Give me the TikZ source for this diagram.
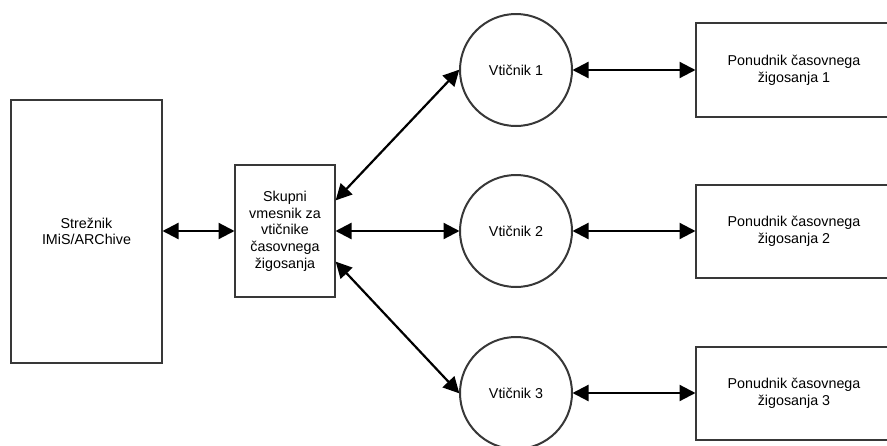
\documentclass[tikz,border=0pt]{standalone}
\usepackage{fontspec}
\setmainfont{Liberation Sans}
\usetikzlibrary{arrows.meta,calc}
\tikzset{
  boxnode/.style={draw=black!78, line width=2pt, fill=white, rectangle, inner sep=0pt, align=center,
    font=\fontsize{14.3}{16.7}\selectfont},
  plugnode/.style={draw=black!78, line width=2pt, fill=white, circle, inner sep=0pt, minimum size=112pt,
    font=\fontsize{14.3}{16.7}\selectfont},
  link/.style={draw=black, line width=2.2pt, {Triangle[length=16pt,width=16pt]}-{Triangle[length=16pt,width=16pt]}, shorten <=-0.5pt, shorten >=-0.5pt}
}
\begin{document}
\begin{tikzpicture}[x=1pt,y=-1pt]
\useasboundingbox (0,0) rectangle (887,445);
\node[boxnode, minimum width=151pt, minimum height=263pt] (L) at (86.5,231.5) {Strežnik\\IMiS/ARChive};
\node[boxnode, minimum width=100pt, minimum height=132pt] (M) at (285,231) {Skupni\\vmesnik za\\vtičnike\\časovnega\\žigosanja};
\node[plugnode] (C1) at (516,70) {Vtičnik 1};
\node[plugnode] (C2) at (516,231) {Vtičnik 2};
\node[plugnode] (C3) at (516,393) {Vtičnik 3};
\node[boxnode, minimum width=196pt, minimum height=94pt] (R1) at (794,70) {Ponudnik časovnega\\žigosanja 1};
\node[boxnode, minimum width=196pt, minimum height=93pt] (R2) at (794,231) {Ponudnik časovnega\\žigosanja 2};
\node[boxnode, minimum width=196pt, minimum height=93pt] (R3) at (794,393) {Ponudnik časovnega\\žigosanja 3};
\coordinate (Mup) at ($(M.east)+(0,-31)$);
\coordinate (Mdn) at ($(M.east)+(0,31)$);
\draw[link] (L.east |- M.west) -- (M.west);
\draw[link] (Mup) -- (C1.west);
\draw[link] (M.east) -- (C2.west);
\draw[link] (Mdn) -- (C3.west);
\draw[link] (C1.east) -- (R1.west);
\draw[link] (C2.east) -- (R2.west);
\draw[link] (C3.east) -- (R3.west);
\end{tikzpicture}
\end{document}
